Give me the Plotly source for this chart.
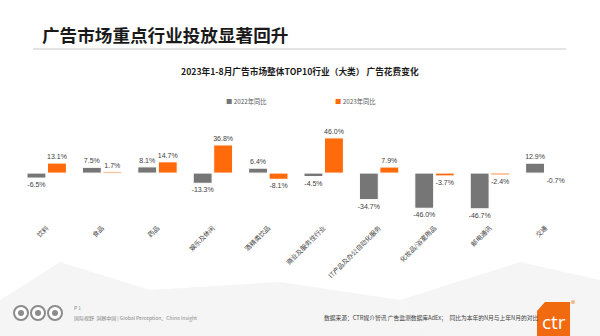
import plotly.graph_objects as go

categories = ["饮料", "食品", "药品", "娱乐及休闲", "酒精类饮品", "商业及服务性行业",
              "IT产品及办公自动化服务", "化妆品/浴室用品", "邮电通讯", "交通"]
yoy_2022 = [-6.5, 7.5, 8.1, -13.3, 6.4, -4.5, -34.7, -46.0, -46.7, 12.9]
yoy_2023 = [13.1, 1.7, 14.7, 36.8, -8.1, 46.0, 7.9, -3.7, -2.4, -0.7]
series_names = ["2022年同比", "2023年同比"]

W, H = 600, 336
L, R, T, B = 19, 27, 115, 114
PW, PH = W - L - R, H - T - B

def px(x):
    return (x - L) / PW

def py(y):
    return (H - B - y) / PH

GRAY = "#767676"
ORANGE = "#FF6A0A"
orange_colors = [ORANGE] * 9 + ["#F8C6A4"]
FONT = "Noto Sans CJK SC"

fig = go.Figure()
fig.add_trace(go.Bar(
    x=categories, y=yoy_2022, name=series_names[0],
    marker=dict(color=GRAY, line=dict(color="white", width=1)),
    texttemplate="%{y:.1f}%", textposition="outside", constraintext="none",
    textfont=dict(size=7, color="#404040", family="Liberation Sans"), cliponaxis=False,
))
fig.add_trace(go.Bar(
    x=categories, y=yoy_2023, name=series_names[1],
    marker=dict(color=orange_colors, line=dict(color="white", width=1)),
    texttemplate="%{y:.1f}%", textposition="outside", constraintext="none",
    textfont=dict(size=7, color="#404040", family="Liberation Sans"), cliponaxis=False,
))

shapes = []
# faint background polygons
for pts in [
    [(0, 336), (0, 300), (60, 262), (150, 290), (150, 336)],
    [(150, 336), (150, 290), (280, 282), (400, 300), (420, 336)],
    [(400, 300), (520, 262), (600, 280), (600, 336), (420, 336)],
]:
    path = "M " + " L ".join(f"{px(a):.4f} {py(b):.4f}" for a, b in pts) + " Z"
    shapes.append(dict(type="path", xref="paper", yref="paper", path=path,
                       fillcolor="#f5f5f5", line=dict(width=0), layer="below"))
# title underline
shapes.append(dict(type="line", xref="paper", yref="paper",
                   x0=px(33), x1=px(566), y0=py(49), y1=py(49),
                   line=dict(color="#c8c8c8", width=1.2)))
# footer logos
for cx in [21, 38, 55]:
    shapes.append(dict(type="circle", xref="paper", yref="paper",
                       x0=px(cx - 7), x1=px(cx + 7), y0=py(306), y1=py(320),
                       line=dict(color="#8c8c8c", width=2), fillcolor="white"))
    shapes.append(dict(type="circle", xref="paper", yref="paper",
                       x0=px(cx - 3), x1=px(cx + 3), y0=py(310), y1=py(316),
                       line=dict(width=0), fillcolor="#8c8c8c"))
# ctr logo
logo = [(537, 336), (537, 311), (545, 302), (570, 302), (570, 336)]
shapes.append(dict(type="path", xref="paper", yref="paper",
                   path="M " + " L ".join(f"{px(a):.4f} {py(b):.4f}" for a, b in logo) + " Z",
                   fillcolor="#F26A10", line=dict(width=0)))
shapes.append(dict(type="circle", xref="paper", yref="paper",
                   x0=px(571), x1=px(575), y0=py(300), y1=py(304),
                   fillcolor="#F7B68A", line=dict(width=0)))

def ann(x, y, text, size, color="#404040", xanchor="left", bold=False, family=FONT):
    if bold:
        text = f"<b>{text}</b>"
    return dict(x=px(x), y=py(y), xref="paper", yref="paper", text=text,
                showarrow=False, xanchor=xanchor, yanchor="middle",
                font=dict(size=size, color=color, family=family))

annotations = [
    ann(40, 35, "广告市场重点行业投放显著回升", 17.6, "#1a1a1a", bold=True),
    ann(300, 71, "2023年1-8月广告市场整体TOP10行业（大类） 广告花费变化", 8.7, "#1a1a1a",
        xanchor="center", bold=True),
    ann(224, 101, f"<span style='color:{GRAY}'>■</span> {series_names[0]}", 6.3, "#595959"),
    ann(333, 101, f"<span style='color:{ORANGE}'>■</span> {series_names[1]}", 6.3, "#595959"),
    ann(72, 307, "P 1", 5, "#888888"),
    ann(72, 318, "国际视野  洞察中国 | Global Perception、China Insight", 5, "#888888"),
    ann(322, 317, "数据来源：CTR媒介智讯 广告监测数据库AdEx；  同比为本年的N月与上年N月的对比", 5.75, "#404040"),
    ann(554, 322, "ctr", 19, "white", xanchor="center", family="Open Sans"),
]

fig.update_layout(
    width=W, height=H,
    margin=dict(l=L, r=R, t=T, b=B, pad=0),
    paper_bgcolor="white", plot_bgcolor="rgba(0,0,0,0)",
    barmode="group", bargap=0.26, bargroupgap=0.08,
    showlegend=False,
    shapes=shapes, annotations=annotations,
    font=dict(family=FONT),
)
fig.update_xaxes(tickangle=-45, tickfont=dict(size=6.5, color="#404040", family=FONT),
                 showline=False, showgrid=False, ticks="", zeroline=False)
fig.update_yaxes(range=[-64, 76], visible=False, showgrid=False, zeroline=False)

fig.write_html("out.html")
